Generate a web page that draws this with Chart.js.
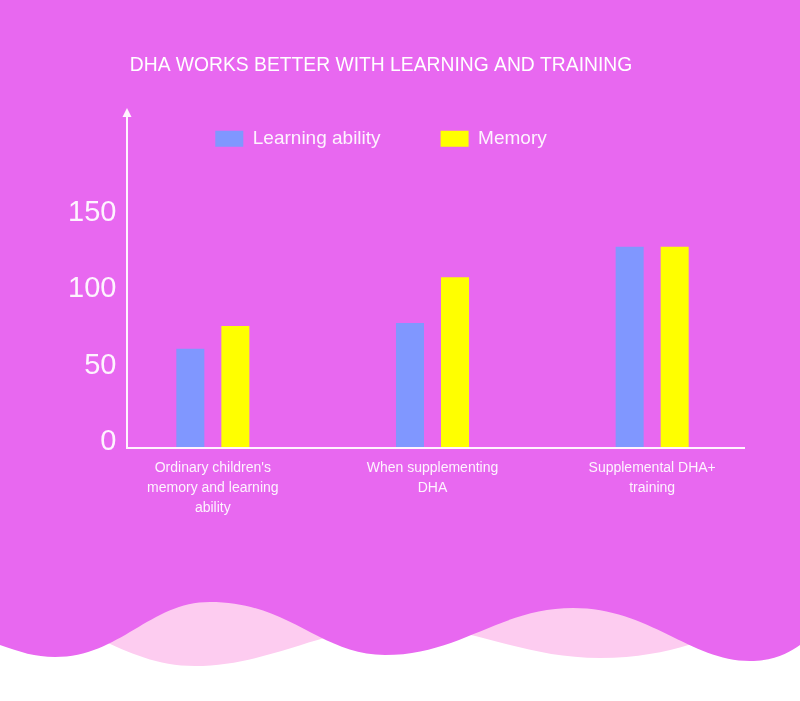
<!DOCTYPE html>
<html>
<head>
<meta charset="utf-8">
<script src="https://cdn.jsdelivr.net/npm/chart.js@4/dist/chart.umd.min.js"></script>
<style>
    html, body { margin: 0; padding: 0; background: #ffffff; }
    #wrap { position: relative; width: 800px; height: 701px; overflow: hidden; }
    #bg { position: absolute; left: 0; top: 0; }
    #chart { position: absolute; left: 0; top: 0; }
</style>
</head>
<body>
<div id="wrap">
    <svg id="bg" width="800" height="701" viewBox="0 0 800 701">
        <path fill="#fdccf0" d="M0,560 L0,612 C80,612 120,666 195,666 C270,666 330,625 400,625 C470,625 520,658 600,658 C690,658 720,625 800,615 L800,560 Z"/>
        <path fill="#e868f0" d="M0,0 L0,645 C20,652 35,657 55,657 C120,657 150,602 210,602 C290,602 320,655 385,655 C460,655 500,608 573,608 C650,608 690,661 750,661 C775,661 790,652 800,645 L800,0 Z"/>
    </svg>
    <canvas id="chart" width="800" height="701"></canvas>
</div>
<script>
const title = "DHA WORKS BETTER WITH LEARNING AND TRAINING";
const categories = [
    ["Ordinary children's", "memory and learning", "ability"],
    ["When supplementing", "DHA"],
    ["Supplemental DHA+", "training"]
];
const learningAbility = [65, 82, 132];
const memory = [80, 112, 132];
const yTicks = [0, 50, 100, 150];

const textColor = "rgba(255, 255, 255, 0.92)";
const fontFamily = "'Liberation Sans', Arial, sans-serif";

// white axes with an arrow on the y axis, shifted in from the chart area like the original
const arrowAxes = {
    id: "arrowAxes",
    afterDatasetsDraw(chart) {
        const { ctx, chartArea } = chart;
        const x0 = chartArea.left + 24;
        const x1 = chartArea.right - 17;
        const y0 = chartArea.bottom;
        const top = 108;
        ctx.save();
        ctx.strokeStyle = "#fff3fd";
        ctx.fillStyle = "#fff3fd";
        ctx.lineWidth = 2;
        ctx.beginPath();
        ctx.moveTo(x0, y0);
        ctx.lineTo(x0, top + 8);
        ctx.moveTo(x0 - 1, y0);
        ctx.lineTo(x1, y0);
        ctx.stroke();
        ctx.beginPath();
        ctx.moveTo(x0, top);
        ctx.lineTo(x0 - 4.5, top + 9);
        ctx.lineTo(x0 + 4.5, top + 9);
        ctx.closePath();
        ctx.fill();
        ctx.restore();
    }
};

function renderChart() {
    const ctx = document.getElementById("chart").getContext("2d");
    new Chart(ctx, {
        type: "bar",
        data: {
            labels: categories,
            datasets: [
                {
                    label: "Learning ability",
                    data: learningAbility,
                    backgroundColor: "#8097ff",
                    categoryPercentage: 0.41,
                    barPercentage: 0.622
                },
                {
                    label: "Memory",
                    data: memory,
                    backgroundColor: "#ffff00",
                    categoryPercentage: 0.41,
                    barPercentage: 0.622
                }
            ]
        },
        options: {
            responsive: false,
            animation: false,
            layout: { padding: { left: 0, right: 38, top: 0, bottom: 173 } },
            plugins: {
                title: {
                    display: true,
                    text: title,
                    color: "#ffffff",
                    font: { family: fontFamily, size: 19.3, weight: "normal" },
                    padding: { top: 54, bottom: -8 }
                },
                legend: {
                    display: true,
                    labels: {
                        color: textColor,
                        font: { family: fontFamily, size: 19 },
                        boxWidth: 28,
                        boxHeight: 16,
                        padding: 60
                    }
                },
                tooltip: { enabled: false }
            },
            scales: {
                x: {
                    grid: { display: false, drawTicks: false },
                    border: { display: false },
                    afterFit(scale) { scale.height = 80; },
                    ticks: {
                        color: textColor,
                        autoSkip: false,
                        maxRotation: 0,
                        padding: 10,
                        font: { family: fontFamily, size: 14, lineHeight: 1.43 }
                    }
                },
                y: {
                    min: 0,
                    max: 190,
                    grid: { display: false, drawTicks: false, tickLength: 0 },
                    border: { display: false },
                    afterFit(scale) { scale.width = 103; },
                    afterBuildTicks(scale) {
                        scale.ticks = yTicks.map(v => ({ value: v }));
                    },
                    ticks: {
                        color: textColor,
                        mirror: true,
                        crossAlign: "far",
                        padding: -35,
                        labelOffset: -6,
                        font: { family: fontFamily, size: 29 }
                    }
                }
            }
        },
        plugins: [arrowAxes]
    });
}

document.addEventListener("DOMContentLoaded", renderChart);
</script>
</body>
</html>
